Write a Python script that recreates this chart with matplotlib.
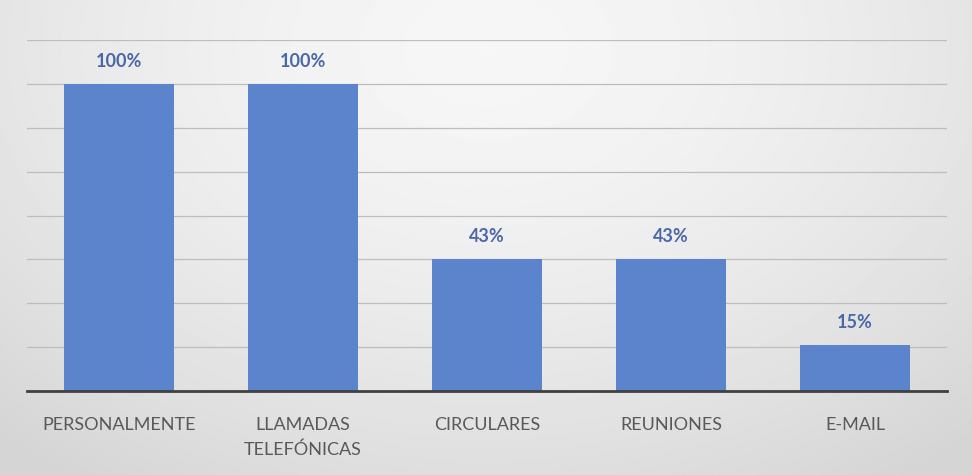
import numpy as np
import matplotlib.pyplot as plt

categorias = ['PERSONALMENTE', 'LLAMADAS\nTELEFÓNICAS', 'CIRCULARES', 'REUNIONES', 'E-MAIL']
porcentajes = [100, 100, 43, 43, 15]
etiquetas = ['100%', '100%', '43%', '43%', '15%']

plt.rcParams['font.family'] = ['Lato', 'DejaVu Sans']

fig = plt.figure(figsize=(9.72, 4.75), dpi=100)

# fondo degradado gris claro
bg = fig.add_axes([0, 0, 1, 1], zorder=-10)
yy, xx = np.mgrid[0:1:300j, 0:1:600j]
r = np.sqrt(((xx - 0.5) / 0.75) ** 2 + ((yy - 0.1) / 1.1) ** 2)
shade = 0.965 - 0.13 * np.clip(r, 0, 1) ** 1.6
bg.imshow(shade, cmap='gray', vmin=0, vmax=1, aspect='auto', extent=[0, 1, 1, 0])
bg.set_axis_off()

ax = fig.add_axes([27 / 972, 84 / 475, 920 / 972, 351 / 475])
ax.patch.set_alpha(0)

x = np.arange(len(categorias))
bars = ax.bar(x, porcentajes, width=0.6, color='#5b84cc', zorder=3)

paso = 100 / 7
ax.set_ylim(0, 8 * paso)
ax.set_xlim(-0.5, len(categorias) - 0.5)
ax.set_yticks([paso * i for i in range(1, 9)])
ax.yaxis.grid(True, color='#bdbdbd', linewidth=0.9, zorder=0)
ax.tick_params(axis='y', left=False, labelleft=False)
ax.tick_params(axis='x', bottom=False, pad=15, labelsize=13, labelcolor='#595959')
ax.set_xticks(x)
ax.set_xticklabels(categorias, linespacing=1.65)

for s in ['top', 'right', 'left']:
    ax.spines[s].set_visible(False)
ax.spines['bottom'].set_color('#404040')
ax.spines['bottom'].set_linewidth(2)
ax.spines['bottom'].set_zorder(4)

for b, t in zip(bars, etiquetas):
    ax.annotate(t, (b.get_x() + b.get_width() / 2, b.get_height()),
                xytext=(0, 10), textcoords='offset points', ha='center', va='bottom',
                fontsize=13, fontweight='bold', color='#4a68a8')

fig.savefig('out.png', dpi=100)
